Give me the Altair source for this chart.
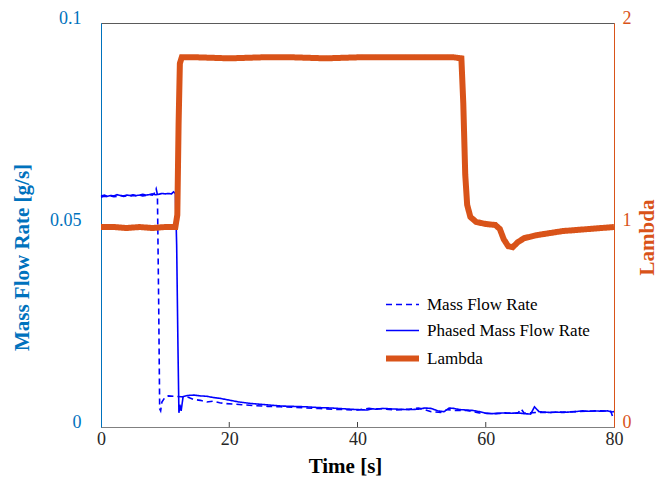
import altair as alt
import pandas as pd

# ---------------- data ----------------
series_names = ["Mass Flow Rate", "Phased Mass Flow Rate", "Lambda"]
x_ticks = [0, 20, 40, 60, 80]
left_ticks = [0, 0.05, 0.1]
right_ticks = [0, 1, 2]

mf_t = [0, 0.5, 1, 1.5, 2, 2.5, 3, 3.5, 4, 4.5, 5, 5.5, 6, 6.5, 7, 7.5, 8, 8.3, 8.6, 8.8,
        9.0, 9.15, 9.3, 9.5, 10, 10.5, 11.5, 12.5, 13.5, 14.5, 15.5, 16.5, 17.5, 18.5, 19.5,
        20.5, 22, 24, 26, 28, 30, 32, 34, 36, 38, 40, 41.8, 42.5, 44, 46, 48, 49.5, 50.5,
        51.5, 53, 54, 55, 57, 59, 61, 63, 65, 65.5, 66, 68, 70, 72, 74, 76, 78, 79.5, 79.8, 80]
mf_v = [0.0569, 0.0571, 0.0570, 0.0572, 0.0570, 0.0571, 0.0573, 0.0571, 0.0572, 0.0571,
        0.0573, 0.0572, 0.0574, 0.0572, 0.0573, 0.0575, 0.0574, 0.0578, 0.0590, 0.0575,
        0.0300, 0.0045, 0.0040, 0.0062, 0.0074, 0.0077, 0.0076, 0.0075, 0.0074, 0.0068,
        0.0066, 0.0062, 0.0064, 0.0060, 0.0058, 0.0057, 0.0055, 0.0053, 0.0051, 0.0050,
        0.0049, 0.0047, 0.0046, 0.0044, 0.0043, 0.0042, 0.0046, 0.0045, 0.0045, 0.0042,
        0.0044, 0.0047, 0.0043, 0.0038, 0.0036, 0.0043, 0.0041, 0.0041, 0.0035, 0.0033,
        0.0034, 0.0034, 0.0045, 0.0034, 0.0036, 0.0036, 0.0037, 0.0038, 0.0039, 0.0040,
        0.0039, 0.0025, 0.0030]

ph_t = [0, 0.5, 1, 1.5, 2, 2.5, 3, 3.5, 4, 4.5, 5, 5.5, 6, 6.5, 7, 7.5, 8, 8.5, 9, 9.5,
        10, 10.5, 11, 11.3, 11.6, 11.8, 12.0, 12.15, 12.3, 12.5, 12.8, 13.5, 14.5, 15.5,
        16.5, 17.5, 18.5, 19.5, 20.5, 21.5, 22.5, 23.5, 25, 26.5, 28, 30, 32, 34, 36, 38,
        40, 41.5, 42.3, 43, 44, 45, 46.5, 48, 49.5, 50.5, 51.5, 52.5, 53.5, 54.3, 55, 56,
        57, 58, 59, 60, 61, 62, 63, 64, 65, 66, 67, 67.6, 68.3, 69, 70, 71, 72, 73, 74, 75,
        76, 77, 78, 79, 79.6, 80]
ph_v = [0.0572, 0.0574, 0.0571, 0.0573, 0.0572, 0.0575, 0.0573, 0.0572, 0.0574, 0.0573,
        0.0575, 0.0573, 0.0574, 0.0576, 0.0574, 0.0575, 0.0577, 0.0575, 0.0576, 0.0578,
        0.0577, 0.0578, 0.0577, 0.0582, 0.0578, 0.0450, 0.0200, 0.0035, 0.0055, 0.0040,
        0.0075, 0.0078, 0.0079, 0.0077, 0.0076, 0.0073, 0.0071, 0.0068, 0.0065, 0.0062,
        0.0060, 0.0058, 0.0056, 0.0054, 0.0052, 0.0051, 0.0050, 0.0048, 0.0047, 0.0045,
        0.0043, 0.0042, 0.0045, 0.0044, 0.0046, 0.0045, 0.0044, 0.0043, 0.0044, 0.0047,
        0.0046, 0.0040, 0.0038, 0.0047, 0.0046, 0.0043, 0.0042, 0.0041, 0.0038, 0.0034,
        0.0033, 0.0034, 0.0035, 0.0034, 0.0035, 0.0033, 0.0032, 0.0050, 0.0038, 0.0037,
        0.0036, 0.0037, 0.0036, 0.0037, 0.0038, 0.0040, 0.0039, 0.0040, 0.0039, 0.0040,
        0.0037, 0.0038]

lam_t = [0, 2, 4, 6, 8, 10, 11.6, 11.9, 12.1, 12.3, 12.6, 15, 20, 25, 30, 35, 40, 45, 50,
         55, 56.2, 56.5, 56.8, 57.1, 57.6, 58.5, 60, 61.5, 62.2, 62.8, 63.5, 64.2, 65, 66,
         68, 70, 72, 74, 76, 78, 80]
lam_v = [0.99, 0.99, 0.985, 0.99, 0.985, 0.99, 0.99, 1.05, 1.50, 1.80, 1.83, 1.83, 1.825,
         1.83, 1.83, 1.825, 1.83, 1.83, 1.83, 1.83, 1.825, 1.60, 1.25, 1.10, 1.04, 1.015,
         1.005, 1.0, 0.98, 0.93, 0.895, 0.89, 0.915, 0.935, 0.95, 0.96, 0.97, 0.975, 0.98,
         0.985, 0.99]

flow = pd.concat([
    pd.DataFrame({"t": mf_t, "v": mf_v, "series": series_names[0]}),
    pd.DataFrame({"t": ph_t, "v": ph_v, "series": series_names[1]}),
])
lam = pd.DataFrame({"t": lam_t, "v": lam_v, "series": series_names[2]})
ticks_df = pd.DataFrame({"t": x_ticks[1:-1]})

# ---------------- styling ----------------
FONT = "Liberation Serif"
AX_BLUE = "#0072BD"
ORANGE = "#D95319"
LINE_BLUE = "#0000FF"

legend = alt.Legend(title=None, orient="none", legendX=282, legendY=264,
                    symbolType="stroke", symbolSize=1089, labelFont=FONT,
                    labelFontSize=17, labelColor="#000000", labelOffset=5,
                    labelLimit=400, rowPadding=-6, padding=0)

color = alt.Color("series:N", sort=series_names,
                  scale=alt.Scale(domain=series_names, range=[LINE_BLUE, LINE_BLUE, ORANGE]),
                  legend=legend)
dash = alt.StrokeDash("series:N", sort=series_names,
                      scale=alt.Scale(domain=series_names, range=[[6, 4], [1, 0], [1, 0]]),
                      legend=legend)
swidth = alt.StrokeWidth("series:N", sort=series_names,
                         scale=alt.Scale(type="ordinal", domain=series_names, range=[1.6, 1.6, 6]),
                         legend=legend)

x_axis = alt.Axis(values=x_ticks, title="Time [s]", grid=False, tickSize=0,
                  labelFont=FONT, labelFontSize=18, labelColor="#262626", labelPadding=3,
                  labelFlush=False, domainColor="#808080", titleFont=FONT, titleFontSize=21,
                  titleFontWeight="bold", titleColor="#000000", titleX=244, titleY=45,
                  titleBaseline="alphabetic", titleAlign="center")

left_axis = alt.Axis(orient="left", values=left_ticks, labelExpr="'' + datum.value",
                     grid=False, tickSize=0, labelPadding=20, labelOffset=-5,
                     labelFont=FONT, labelFontSize=18, labelColor=AX_BLUE,
                     domainColor=AX_BLUE, title="Mass Flow Rate [g/s]", titleFont=FONT,
                     titleFontSize=21, titleFontWeight="bold", titleColor=AX_BLUE,
                     titleX=-79, titleY=234, titleAngle=270, titleAlign="center",
                     titleBaseline="middle")

right_axis = alt.Axis(orient="right", values=right_ticks, labelExpr="'' + datum.value",
                      grid=False, tickSize=0,
                      labelPadding=8, labelOffset=-5, labelFont=FONT, labelFontSize=18,
                      labelColor=ORANGE, domainColor=ORANGE, title="Lambda",
                      titleFont=FONT, titleFontSize=21, titleFontWeight="bold",
                      titleColor=ORANGE, titleX=33, titleY=214, titleAngle=270,
                      titleAlign="center", titleBaseline="middle")

x_enc = alt.X("t:Q", scale=alt.Scale(domain=[0, 80], nice=False), axis=x_axis)

flow_chart = alt.Chart(flow).mark_line().encode(
    x=x_enc,
    y=alt.Y("v:Q", scale=alt.Scale(domain=[0, 0.1], nice=False), axis=left_axis),
    color=color, strokeDash=dash, strokeWidth=swidth,
)

lam_chart = alt.Chart(lam).mark_line().encode(
    x=alt.X("t:Q"),
    y=alt.Y("v:Q", scale=alt.Scale(domain=[0, 2], nice=False), axis=right_axis),
    color=color, strokeDash=dash, strokeWidth=swidth,
)

tick_marks = alt.Chart(ticks_df).mark_rule(color="#404040", strokeWidth=1).encode(
    x=alt.X("t:Q"), y=alt.value(404), y2=alt.value(399)
)

chart = alt.layer(flow_chart, lam_chart, tick_marks).resolve_scale(
    y="independent"
).properties(
    width=513, height=404,
    autosize=alt.AutoSizeParams(type="none"),
    padding={"left": 93, "top": 15, "right": 46, "bottom": 50},
).configure_view(stroke="#5a5a5a", strokeWidth=1)

chart.save("out.html", embed_options={"renderer": "svg", "actions": False})
